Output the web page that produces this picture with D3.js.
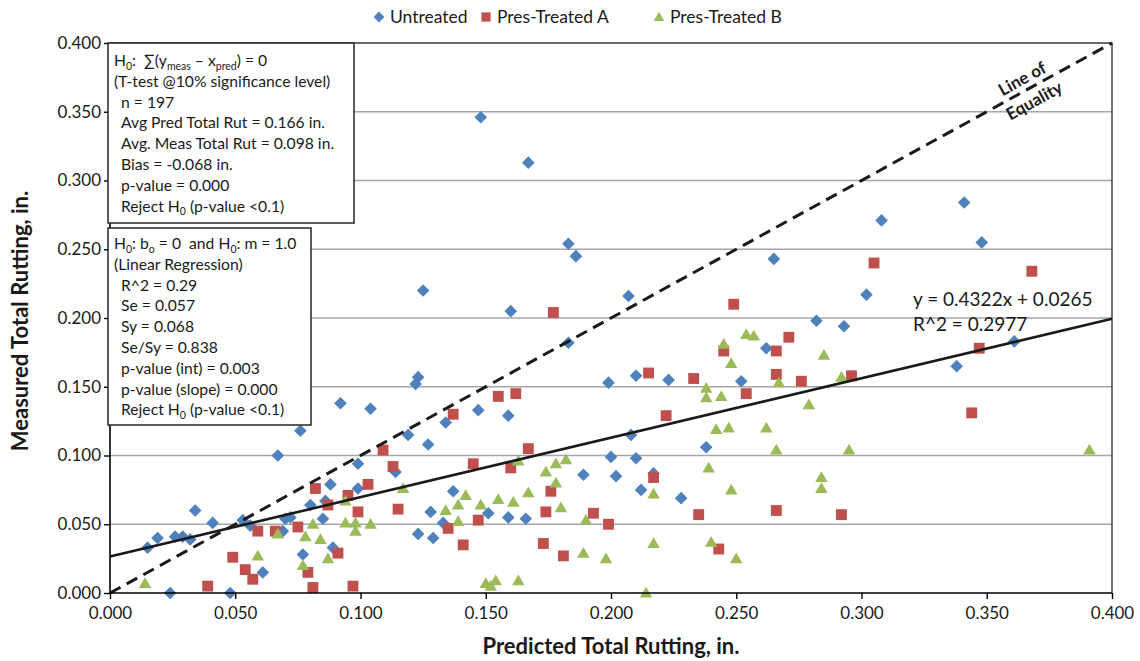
<!DOCTYPE html>
<html>
<head>
<meta charset="utf-8">
<script src="https://cdn.jsdelivr.net/npm/d3@7/dist/d3.min.js"></script>
<style>
  body { margin: 0; background: #fff; }
  svg { display: block; }
  text { font-family: Lato, "Liberation Sans", sans-serif; fill: #1a1a1a; white-space: pre; }
</style>
</head>
<body>
<svg id="chart" width="1140" height="661"></svg>
<script>
// Measured vs predicted total rutting (in.), one [predicted, measured] pair per section
const untreated = [
  [0.015,0.033],[0.019,0.040],[0.024,0.000],[0.026,0.041],[0.029,0.041],[0.032,0.039],
  [0.034,0.060],[0.041,0.051],[0.048,0.000],[0.053,0.053],[0.056,0.049],[0.061,0.015],
  [0.067,0.100],[0.069,0.045],[0.070,0.054],[0.072,0.055],[0.077,0.028],[0.076,0.118],
  [0.080,0.064],[0.085,0.054],[0.086,0.067],[0.088,0.079],[0.089,0.033],[0.092,0.138],
  [0.099,0.094],[0.099,0.076],[0.104,0.134],[0.114,0.088],[0.119,0.115],[0.123,0.157],
  [0.122,0.152],[0.125,0.220],[0.127,0.108],[0.123,0.043],[0.128,0.059],[0.129,0.040],
  [0.133,0.051],[0.134,0.124],[0.137,0.074],[0.148,0.346],[0.147,0.133],[0.151,0.058],
  [0.159,0.055],[0.159,0.129],[0.160,0.205],[0.166,0.054],[0.167,0.313],[0.183,0.254],
  [0.183,0.182],[0.186,0.245],[0.189,0.086],[0.199,0.153],[0.200,0.099],[0.202,0.085],
  [0.207,0.216],[0.208,0.115],[0.210,0.158],[0.210,0.098],[0.212,0.075],[0.217,0.087],
  [0.223,0.155],[0.228,0.069],[0.238,0.106],[0.252,0.154],[0.262,0.178],[0.265,0.243],
  [0.282,0.198],[0.293,0.194],[0.302,0.217],[0.308,0.271],[0.338,0.165],[0.341,0.284],
  [0.348,0.255],[0.361,0.183]
];
const presTreatedA = [
  [0.039,0.005],[0.049,0.026],[0.054,0.017],[0.057,0.010],[0.059,0.045],[0.066,0.045],
  [0.075,0.048],[0.079,0.015],[0.081,0.004],[0.082,0.076],[0.087,0.064],[0.091,0.029],
  [0.095,0.071],[0.097,0.005],[0.099,0.059],[0.103,0.079],[0.109,0.104],[0.113,0.092],
  [0.115,0.061],[0.135,0.047],[0.137,0.130],[0.141,0.035],[0.145,0.094],[0.147,0.053],
  [0.155,0.143],[0.160,0.091],[0.162,0.145],[0.167,0.105],[0.173,0.036],[0.174,0.059],
  [0.176,0.074],[0.177,0.204],[0.181,0.027],[0.193,0.058],[0.199,0.050],[0.215,0.160],
  [0.217,0.084],[0.222,0.129],[0.233,0.156],[0.235,0.057],[0.243,0.032],[0.245,0.176],
  [0.249,0.210],[0.254,0.145],[0.266,0.060],[0.266,0.159],[0.266,0.176],[0.271,0.186],
  [0.276,0.154],[0.292,0.057],[0.296,0.158],[0.305,0.240],[0.344,0.131],[0.347,0.178],
  [0.368,0.234]
];
const presTreatedB = [
  [0.014,0.007],[0.059,0.027],[0.067,0.043],[0.077,0.020],[0.078,0.041],[0.081,0.050],
  [0.084,0.039],[0.087,0.025],[0.094,0.067],[0.094,0.051],[0.098,0.051],[0.098,0.045],
  [0.104,0.050],[0.117,0.076],[0.134,0.060],[0.139,0.064],[0.139,0.052],[0.142,0.071],
  [0.148,0.064],[0.150,0.007],[0.152,0.005],[0.154,0.009],[0.155,0.068],[0.161,0.066],
  [0.163,0.096],[0.163,0.009],[0.167,0.073],[0.174,0.088],[0.178,0.094],[0.178,0.080],
  [0.180,0.062],[0.182,0.097],[0.189,0.029],[0.190,0.053],[0.198,0.025],[0.214,0.000],
  [0.217,0.072],[0.217,0.036],[0.238,0.149],[0.238,0.142],[0.239,0.091],[0.240,0.037],
  [0.242,0.119],[0.244,0.143],[0.245,0.181],[0.247,0.120],[0.248,0.075],[0.248,0.167],
  [0.250,0.025],[0.254,0.188],[0.257,0.187],[0.262,0.120],[0.266,0.104],[0.267,0.153],
  [0.279,0.137],[0.284,0.084],[0.284,0.076],[0.285,0.173],[0.292,0.157],[0.295,0.104],
  [0.391,0.104]
];
const seriesNames = ["Untreated", "Pres-Treated A", "Pres-Treated B"];
const xTickValues = [0, 0.05, 0.10, 0.15, 0.20, 0.25, 0.30, 0.35, 0.40];
const yTickValues = [0, 0.05, 0.10, 0.15, 0.20, 0.25, 0.30, 0.35, 0.40];
const trendSlope = 0.4322;
const trendIntercept = 0.0265;
const trendLabel = ["y = 0.4322x + 0.0265", "R^2 = 0.2977"];

const svg = d3.select("#chart");
const x = d3.scaleLinear().domain([0, 0.4]).range([110, 1112]);
const y = d3.scaleLinear().domain([0, 0.4]).range([593, 43]);
const colors = ["#4F81BD", "#C0504D", "#9BBB59"];

// horizontal gridlines
svg.append("g").selectAll("line")
  .data(yTickValues.filter(v => v > 0 && v < 0.4))
  .join("line")
  .attr("x1", x(0)).attr("x2", x(0.4))
  .attr("y1", d => y(d)).attr("y2", d => y(d))
  .attr("stroke", "#A6A6A6").attr("stroke-width", 1.4);

// plot area frame (top & right)
svg.append("path")
  .attr("d", `M${x(0)},${y(0.4)}H${x(0.4)}V${y(0)}`)
  .attr("fill", "none").attr("stroke", "#3a3a3a").attr("stroke-width", 1.4);

// markers
const diamond = d3.symbol().type(d3.symbolSquare).size(80)();
const square = d3.symbol().type(d3.symbolSquare).size(118)();
const triangle = d3.symbol().type(d3.symbolTriangle).size(68)();

function drawSeries(data, path, color, rot, dy) {
  svg.append("g").selectAll("path")
    .data(data).join("path")
    .attr("d", path)
    .attr("fill", color)
    .attr("transform", d => `translate(${x(d[0])},${y(d[1]) + dy}) rotate(${rot})`);
}
drawSeries(untreated, diamond, colors[0], 45, 0);
drawSeries(presTreatedA, square, colors[1], 0, 0);
drawSeries(presTreatedB, triangle, colors[2], 0, 1);

// line of equality
svg.append("line")
  .attr("x1", x(0)).attr("y1", y(0)).attr("x2", x(0.4)).attr("y2", y(0.4))
  .attr("stroke", "#1a1a1a").attr("stroke-width", 3).attr("stroke-dasharray", "12,7");

// linear trendline
svg.append("line")
  .attr("x1", x(0)).attr("y1", y(trendIntercept))
  .attr("x2", x(0.4)).attr("y2", y(trendSlope * 0.4 + trendIntercept))
  .attr("stroke", "#1a1a1a").attr("stroke-width", 2.6);

// axes
const fmt = d3.format(".3f");
const yAxis = svg.append("g").attr("transform", `translate(${x(0)},0)`)
  .call(d3.axisLeft(y).tickValues(yTickValues).tickFormat(fmt).tickSize(6).tickPadding(3));
const xAxis = svg.append("g").attr("transform", `translate(0,${y(0)})`)
  .call(d3.axisBottom(x).tickValues(xTickValues).tickFormat(fmt).tickSize(6).tickPadding(8));
[xAxis, yAxis].forEach(g => {
  g.select(".domain").attr("stroke", "#000").attr("stroke-width", 1.6);
  g.selectAll(".tick line").attr("stroke", "#000").attr("stroke-width", 1.4);
  g.selectAll(".tick text").attr("font-size", 17).attr("font-family", "Lato, sans-serif").attr("fill", "#1a1a1a");
});
xAxis.select(".domain").attr("d", `M${x(0)},0H${x(0.4)}`);
yAxis.select(".domain").attr("d", `M0,${y(0)}V${y(0.4)}`);

// axis titles
svg.append("text").attr("x", 611).attr("y", 654).attr("text-anchor", "middle")
  .attr("font-size", 22).attr("font-weight", "bold").text("Predicted Total Rutting, in.");
svg.append("text").attr("transform", "translate(28,321) rotate(-90)").attr("text-anchor", "middle")
  .attr("font-size", 22).attr("font-weight", "bold").text("Measured Total Rutting, in.");

// legend
const legendItems = [
  { path: diamond, rot: 45, mx: 379, tx: 390 },
  { path: square, rot: 0, mx: 486, tx: 497 },
  { path: triangle, rot: 0, mx: 659, tx: 670 }
];
legendItems.forEach((it, i) => {
  svg.append("path").attr("d", it.path).attr("fill", colors[i])
    .attr("transform", `translate(${it.mx},${i === 2 ? 18 : 17}) rotate(${it.rot}) scale(0.85)`);
  svg.append("text").attr("x", it.tx).attr("y", 23).attr("font-size", 17.5).text(seriesNames[i]);
});

// trendline equation
svg.append("text").attr("x", 913).attr("y", 306).attr("font-size", 19).text(trendLabel[0]);
svg.append("text").attr("x", 913).attr("y", 331).attr("font-size", 19).text(trendLabel[1]);

// line of equality label
const loe = svg.append("text").attr("transform", "translate(1025,84) rotate(-28.8)")
  .attr("text-anchor", "middle").attr("font-size", 17).attr("font-weight", "bold");
loe.append("tspan").attr("x", 0).attr("dy", 0).text("Line of");
loe.append("tspan").attr("x", 0).attr("dy", 25).text("Equality");

// statistics boxes
function statBox(x0, y0, w, h, lines, firstY) {
  svg.append("rect").attr("x", x0).attr("y", y0).attr("width", w).attr("height", h)
    .attr("fill", "#fff").attr("stroke", "#262626").attr("stroke-width", 1.5);
  lines.forEach((parts, i) => {
    const t = svg.append("text").attr("x", parts.indent ? 121 : 114)
      .attr("y", firstY + i * 20.8).attr("font-size", 15.7);
    let shifted = false;
    parts.segs.forEach(s => {
      if (typeof s === "string") {
        const sp = t.append("tspan").text(s);
        if (shifted) { sp.attr("dy", -3.5); shifted = false; }
      } else {
        t.append("tspan").attr("font-size", 10.5).attr("dy", shifted ? 0 : 3.5).text(s.sub);
        shifted = true;
      }
    });
  });
}

statBox(108, 43, 246, 180, [
  { segs: ["H", { sub: "0" }, ":  \u2211(y", { sub: "meas" }, " \u2013 x", { sub: "pred" }, ") = 0"] },
  { segs: ["(T-test @10% significance level)"] },
  { indent: true, segs: ["n = 197"] },
  { indent: true, segs: ["Avg Pred Total Rut = 0.166 in."] },
  { indent: true, segs: ["Avg. Meas Total Rut = 0.098 in."] },
  { indent: true, segs: ["Bias = -0.068 in."] },
  { indent: true, segs: ["p-value = 0.000"] },
  { indent: true, segs: ["Reject H", { sub: "0" }, " (p-value <0.1)"] }
], 66);

statBox(108, 228, 203, 197, [
  { segs: ["H", { sub: "0" }, ": b", { sub: "o" }, " = 0  and H", { sub: "0" }, ": m = 1.0"] },
  { segs: ["(Linear Regression)"] },
  { indent: true, segs: ["R^2 = 0.29"] },
  { indent: true, segs: ["Se = 0.057"] },
  { indent: true, segs: ["Sy = 0.068"] },
  { indent: true, segs: ["Se/Sy = 0.838"] },
  { indent: true, segs: ["p-value (int) = 0.003"] },
  { indent: true, segs: ["p-value (slope) = 0.000"] },
  { indent: true, segs: ["Reject H", { sub: "0" }, " (p-value <0.1)"] }
], 249);
</script>
</body>
</html>
